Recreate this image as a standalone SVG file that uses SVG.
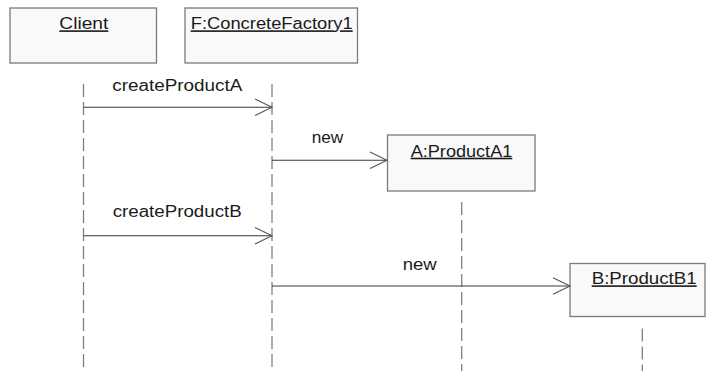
<svg xmlns="http://www.w3.org/2000/svg" width="706" height="371" viewBox="0 0 706 371">
<style>
.box{fill:#f9f9f9;stroke:#7a7a7a;stroke-width:1.3}
.life{stroke:#808080;stroke-width:1.3;stroke-dasharray:13 5;fill:none}
.msg{stroke:#3a3a3a;stroke-width:1.1;fill:none}
.head{stroke:#555;stroke-width:1.1;fill:none}
text{font-family:"Liberation Sans",Arial,sans-serif;font-size:16px;fill:#1a1a1a}
.u{text-decoration:underline}
</style>
<rect width="706" height="371" fill="#ffffff"/>
<g id="client">
<rect class="box" x="10" y="8" width="146.5" height="55"/>
<text class="u" x="59.3" y="29.3" textLength="49" lengthAdjust="spacingAndGlyphs">Client</text>
<line class="life" x1="83.5" y1="84" x2="83.5" y2="371"/>
</g>
<g id="factory">
<rect class="box" x="185" y="8" width="172.5" height="55"/>
<text class="u" x="190.7" y="29.3" textLength="162" lengthAdjust="spacingAndGlyphs">F:ConcreteFactory1</text>
<line class="life" x1="272" y1="84" x2="272" y2="371"/>
</g>
<g id="productA">
<rect class="box" x="387.5" y="135" width="147.5" height="56"/>
<text class="u" x="410.7" y="156.7" textLength="101.6" lengthAdjust="spacingAndGlyphs">A:ProductA1</text>
<line class="life" x1="461.7" y1="202" x2="461.7" y2="371"/>
</g>
<g id="productB">
<rect class="box" x="570" y="263.5" width="135" height="53"/>
<text class="u" x="591.7" y="284.3" textLength="105" lengthAdjust="spacingAndGlyphs">B:ProductB1</text>
<line class="life" x1="642.3" y1="328.5" x2="642.3" y2="371"/>
</g>
<g id="connectors">
<line class="msg" x1="83.5" y1="107.3" x2="272" y2="107.3"/>
<polyline class="head" points="255,99 272,107.3 255,115.6"/>
<text x="112.3" y="90.7" textLength="130" lengthAdjust="spacingAndGlyphs">createProductA</text>
<line class="msg" x1="272" y1="160.3" x2="387" y2="160.3"/>
<polyline class="head" points="370,152 387,160.3 370,168.6"/>
<text x="311.7" y="142.7" textLength="31.6" lengthAdjust="spacingAndGlyphs">new</text>
<line class="msg" x1="83.5" y1="235.7" x2="272" y2="235.7"/>
<polyline class="head" points="255,227.4 272,235.7 255,244"/>
<text x="112.7" y="216.7" textLength="129" lengthAdjust="spacingAndGlyphs">createProductB</text>
<line class="msg" x1="272" y1="286" x2="570" y2="286"/>
<polyline class="head" points="553,277.7 570,286 553,294.3"/>
<text x="402.7" y="270" textLength="34" lengthAdjust="spacingAndGlyphs">new</text>
</g>
</svg>
